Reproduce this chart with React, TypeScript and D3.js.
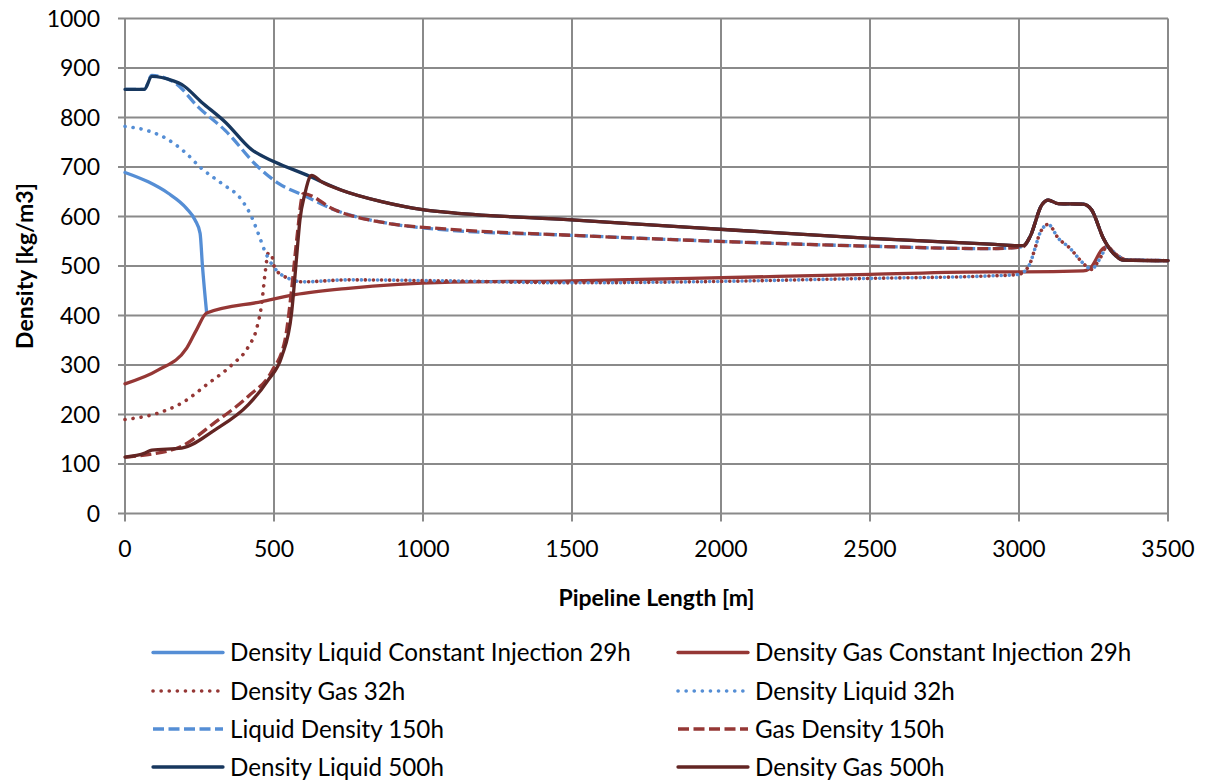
import React from "react";
import * as d3 from "d3";

// ---- Data ----
const xTicks = [0, 500, 1000, 1500, 2000, 2500, 3000, 3500];
const yTicks = [0, 100, 200, 300, 400, 500, 600, 700, 800, 900, 1000];

const liq29X = [0, 78, 145, 207, 235, 252, 260, 274];
const liq29Y = [689, 670, 647, 616, 593, 566, 499, 405];

const gas29X = [0, 112, 207, 240, 274, 459, 570, 749, 917, 1074, 1499, 1896, 2500, 2903, 3014, 3216, 3238, 3283, 3294, 3328, 3361, 3500];
const gas29Y = [262, 290, 334, 371, 405, 428, 442, 455, 463, 467, 470, 475, 483, 488, 488, 490, 495, 536, 539, 522, 512, 511];

const gas32X = [0, 112, 190, 280, 358, 414, 442, 459, 470, 481, 490, 503, 548, 598, 749, 1074, 1499, 1896, 2500, 2903, 2998, 3020, 3037, 3054, 3070, 3098, 3132, 3171, 3205, 3225, 3244, 3261, 3278, 3294, 3328, 3361, 3500];
const gas32Y = [190, 203, 223, 263, 300, 337, 374, 425, 485, 526, 525, 495, 475, 468, 472, 470, 466, 468, 475, 480, 483, 490, 505, 536, 566, 584, 556, 536, 512, 500, 493, 505, 522, 539, 522, 512, 511];

const liq32X = [0, 78, 134, 201, 257, 324, 392, 425, 447, 470, 503, 548, 598, 749, 1074, 1499, 1896, 2500, 2903, 2998, 3020, 3037, 3054, 3070, 3098, 3132, 3171, 3205, 3225, 3244, 3261, 3278, 3294, 3328, 3361, 3500];
const liq32Y = [782, 773, 759, 730, 697, 667, 633, 599, 566, 529, 495, 475, 468, 472, 470, 466, 468, 475, 480, 483, 490, 505, 536, 566, 584, 556, 536, 512, 500, 493, 505, 522, 539, 522, 512, 511];

const liq150X = [0, 65, 90, 168, 246, 336, 447, 515, 598, 705, 884, 1074, 1499, 1896, 2500, 2903, 3014, 3037, 3076, 3098, 3132, 3216, 3244, 3283, 3316, 3350, 3500];
const liq150Y = [857, 857, 885, 870, 821, 774, 700, 667, 643, 613, 586, 573, 562, 552, 540, 535, 539, 559, 623, 633, 626, 625, 613, 556, 526, 512, 511];

const gas150X = [0, 78, 190, 302, 414, 492, 537, 559, 576, 598, 705, 884, 1074, 1499, 1896, 2500, 2903, 3014, 3037, 3076, 3098, 3132, 3216, 3244, 3283, 3316, 3350, 3500];
const gas150Y = [114, 119, 136, 184, 237, 287, 351, 452, 552, 646, 613, 586, 575, 562, 552, 540, 535, 539, 559, 623, 633, 626, 625, 613, 556, 526, 512, 511];

const liq500X = [0, 65, 90, 162, 190, 257, 336, 425, 503, 621, 660, 727, 861, 999, 1074, 1499, 1896, 2500, 2903, 3014, 3037, 3076, 3098, 3132, 3216, 3244, 3283, 3316, 3350, 3500];
const liq500Y = [857, 857, 883, 874, 867, 831, 791, 735, 710, 681, 670, 653, 630, 614, 609, 593, 578, 556, 544, 541, 559, 623, 633, 626, 625, 613, 556, 526, 512, 511];

const gas500X = [0, 67, 90, 190, 302, 414, 481, 526, 559, 576, 587, 604, 621, 626, 660, 727, 861, 999, 1074, 1499, 1896, 2500, 2903, 3014, 3037, 3076, 3098, 3132, 3216, 3244, 3283, 3316, 3350, 3500];
const gas500Y = [114, 122, 128, 132, 169, 220, 270, 317, 405, 519, 593, 647, 681, 683, 670, 653, 630, 614, 609, 593, 578, 556, 544, 541, 559, 623, 633, 626, 625, 613, 556, 526, 512, 511];

type Style = "solid" | "dot" | "dash";
interface Series { name: string; xs: number[]; ys: number[]; color: string; style: Style; }

const series: Series[] = [
  { name: "Density Liquid Constant Injection 29h", xs: liq29X, ys: liq29Y, color: "#558ED5", style: "solid" },
  { name: "Density Gas Constant Injection 29h", xs: gas29X, ys: gas29Y, color: "#953735", style: "solid" },
  { name: "Density Gas 32h", xs: gas32X, ys: gas32Y, color: "#953735", style: "dot" },
  { name: "Density Liquid 32h", xs: liq32X, ys: liq32Y, color: "#558ED5", style: "dot" },
  { name: "Liquid Density 150h", xs: liq150X, ys: liq150Y, color: "#558ED5", style: "dash" },
  { name: "Gas Density 150h", xs: gas150X, ys: gas150Y, color: "#953735", style: "dash" },
  { name: "Density Liquid 500h", xs: liq500X, ys: liq500Y, color: "#17375E", style: "solid" },
  { name: "Density Gas 500h", xs: gas500X, ys: gas500Y, color: "#632523", style: "solid" },
];

const FONT = "Lato, 'Open Sans', sans-serif";

function dashFor(s: Style) {
  if (s === "dot") return { dash: "0.1 8", cap: "round" as const };
  if (s === "dash") return { dash: "11 4.5", cap: "butt" as const };
  return { dash: undefined, cap: "round" as const };
}

export default function App() {
  const W = 1205, H = 782;
  const left = 125, right = 1168, top = 18.5, bottom = 513.5;
  const x = d3.scaleLinear().domain([0, 3500]).range([left, right]);
  const y = d3.scaleLinear().domain([0, 1000]).range([bottom, top]);
  const line = d3.line<[number, number]>().x(d => x(d[0])).y(d => y(d[1])).curve(d3.curveMonotoneX);
  const grid = "#8a8a8a";

  const legendRows = [652.5, 691, 729, 767];
  const legendCols = [{ l0: 153, l1: 223, t: 230 }, { l0: 678, l1: 748, t: 755 }];

  return (
    <svg width={W} height={H} style={{ position: "absolute", left: 0, top: 0, background: "#fff" }} fontFamily={FONT}>
      {/* grid */}
      {yTicks.map(t => (
        <line key={"gy" + t} x1={left - 7} x2={right} y1={y(t)} y2={y(t)} stroke={grid} strokeWidth={2} />
      ))}
      {xTicks.map(t => (
        <line key={"gx" + t} x1={x(t)} x2={x(t)} y1={top} y2={bottom + 8} stroke={grid} strokeWidth={2} />
      ))}
      {/* tick labels */}
      {yTicks.map(t => (
        <text key={"ly" + t} x={100} y={y(t)} dy="0.36em" textAnchor="end" fontSize={23} fill="#000">{t}</text>
      ))}
      {xTicks.map(t => (
        <text key={"lx" + t} x={x(t)} y={557} textAnchor="middle" fontSize={23} fill="#000">{t}</text>
      ))}
      {/* axis titles */}
      <text x={(left + right) / 2 + 10} y={606} textAnchor="middle" fontSize={23} fontWeight="bold">Pipeline Length [m]</text>
      <text transform={`translate(33,${(top + bottom) / 2}) rotate(-90)`} textAnchor="middle" fontSize={23} fontWeight="bold">Density [kg/m3]</text>
      {/* series */}
      {series.map(s => {
        const d = line(s.xs.map((v, i) => [v, s.ys[i]] as [number, number])) || "";
        const st = dashFor(s.style);
        return (
          <path key={s.name} d={d} fill="none" stroke={s.color} strokeWidth={s.style === "dot" ? 3.6 : 3.3}
            strokeDasharray={st.dash} strokeLinecap={st.cap} strokeLinejoin="round" />
        );
      })}
      {/* legend */}
      {series.map((s, i) => {
        const row = Math.floor(i / 2), col = i % 2;
        const c = legendCols[col];
        const yy = legendRows[row];
        const st = dashFor(s.style);
        return (
          <g key={"lg" + s.name}>
            <line x1={c.l0} x2={c.l1} y1={yy} y2={yy} stroke={s.color} strokeWidth={s.style === "dot" ? 3.6 : 3.3}
              strokeDasharray={st.dash} strokeLinecap={st.cap} />
            <text x={c.t} y={yy} dy="0.36em" fontSize={24.2} fill="#000">{s.name}</text>
          </g>
        );
      })}
    </svg>
  );
}
